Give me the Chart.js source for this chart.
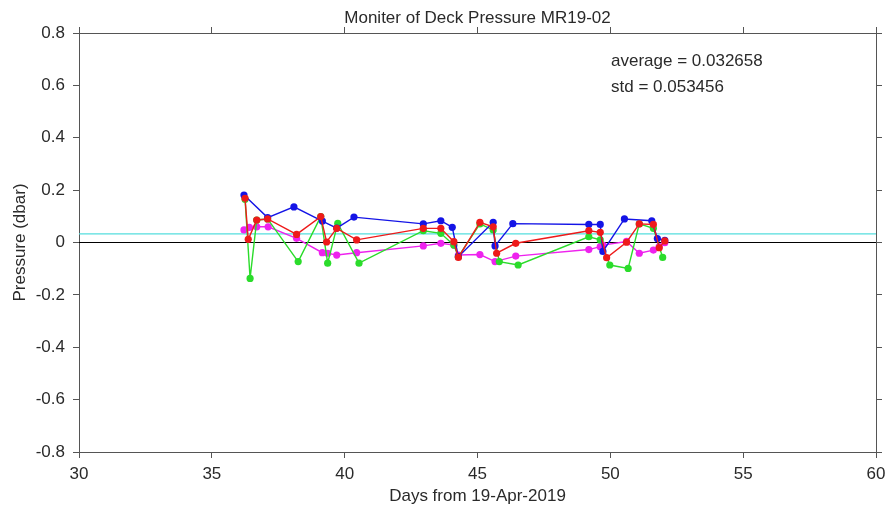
<!DOCTYPE html>
<html>
<head>
<meta charset="utf-8">
<script src="https://cdn.jsdelivr.net/npm/chart.js@4.4.0/dist/chart.umd.min.js"></script>
<style>
  html, body { margin: 0; padding: 0; background: #ffffff; }
  #wrap { width: 885px; height: 508px; }
</style>
</head>
<body>
<div id="wrap"><canvas id="c" width="885" height="508"></canvas></div>
<script>
// Deck pressure readings (dbar) against days since 19-Apr-2019, one list per sensor trace
const blueDays = [36.21, 37.10, 38.09, 39.16, 39.70, 40.35, 42.96, 43.62, 44.05, 44.28, 45.59, 45.66, 46.33, 49.19, 49.62, 49.72, 50.53, 51.56, 51.77, 52.05];
const bluePressure = [0.181, 0.095, 0.136, 0.082, 0.055, 0.097, 0.071, 0.083, 0.058, -0.054, 0.077, -0.013, 0.072, 0.069, 0.069, -0.034, 0.090, 0.083, 0.015, 0.008];

const redDays = [36.25, 36.37, 36.69, 37.10, 38.19, 39.10, 39.32, 39.70, 40.45, 42.96, 43.62, 44.11, 44.28, 45.09, 45.59, 45.72, 46.44, 49.19, 49.62, 49.86, 50.61, 51.09, 51.62, 51.84, 52.05];
const redPressure = [0.169, 0.012, 0.086, 0.090, 0.031, 0.099, 0.002, 0.054, 0.010, 0.054, 0.054, 0.003, -0.057, 0.077, 0.060, -0.041, -0.003, 0.045, 0.039, -0.058, 0.001, 0.071, 0.069, -0.020, 0.006];

const greenDays = [36.25, 36.44, 36.69, 37.10, 38.25, 39.10, 39.36, 39.74, 40.54, 42.96, 43.62, 44.11, 44.28, 45.09, 45.59, 45.82, 46.53, 49.19, 49.62, 49.98, 50.67, 51.09, 51.62, 51.97];
const greenPressure = [0.165, -0.137, 0.086, 0.090, -0.073, 0.099, -0.079, 0.073, -0.079, 0.045, 0.035, -0.010, -0.054, 0.071, 0.048, -0.073, -0.086, 0.022, 0.010, -0.086, -0.099, 0.071, 0.054, -0.057];

const magentaDays = [36.21, 36.41, 36.69, 37.12, 38.19, 39.16, 39.36, 39.70, 40.45, 42.96, 43.62, 44.11, 44.28, 45.09, 45.66, 46.44, 49.19, 49.62, 49.72, 50.61, 51.09, 51.62, 51.84, 52.05];
const magentaPressure = [0.048, 0.058, 0.060, 0.060, 0.016, -0.039, -0.041, -0.048, -0.039, -0.013, -0.003, -0.010, -0.048, -0.046, -0.073, -0.052, -0.027, -0.016, -0.010, 0.004, -0.041, -0.029, -0.016, -0.001];

const averagePressure = 0.032658;
const stdPressure = 0.053456;

const dayRange = [30, 60];
const pressureRange = [-0.8, 0.8];

const chartTitle = 'Moniter of Deck Pressure MR19-02';
const xTitle = 'Days from 19-Apr-2019';
const yTitle = 'Pressure (dbar)';

const FONT = '"Liberation Sans", Arial, sans-serif';
const TEXT = '#2a2a2a';
const AXIS = '#555555';

function pairs(xs, ys) {
  return xs.map((x, i) => ({ x: x, y: ys[i] }));
}

function trace(data, color) {
  return {
    data: data,
    showLine: true,
    borderColor: color,
    backgroundColor: color,
    pointBackgroundColor: color,
    pointBorderColor: color,
    borderWidth: 1.4,
    pointRadius: 3.6,
    pointBorderWidth: 0,
    tension: 0,
    order: 1
  };
}

function refLine(value, color) {
  return {
    data: [{ x: dayRange[0], y: value }, { x: dayRange[1], y: value }],
    showLine: true,
    borderColor: color,
    borderWidth: 1.2,
    pointRadius: 0,
    order: 5
  };
}

// title above the plot and statistics text inside it
const textPlugin = {
  id: 'plotText',
  afterDraw(chart) {
    const { ctx, chartArea } = chart;
    ctx.save();
    ctx.fillStyle = TEXT;
    ctx.font = '17px ' + FONT;
    ctx.textAlign = 'center';
    ctx.textBaseline = 'middle';
    ctx.fillText(chartTitle, (chartArea.left + chartArea.right) / 2, 18);
    ctx.textAlign = 'left';
    ctx.fillText('average = ' + averagePressure.toFixed(6), 611, 61);
    ctx.fillText('std = ' + stdPressure.toFixed(6), 611, 87);
    ctx.restore();
  }
};

const tickGrid = { drawOnChartArea: false, drawTicks: true, tickLength: 6, color: AXIS, lineWidth: 1 };
const border = { display: true, color: AXIS, width: 1 };

// fixed axis box sizes keep the plot frame in place; edge labels may overhang
function fixBox(size) {
  return function (s) {
    if (s.isHorizontal()) { s.height = size; } else { s.width = size; }
    s.paddingLeft = 0; s.paddingRight = 0; s.paddingTop = 0; s.paddingBottom = 0;
  };
}

new Chart(document.getElementById('c'), {
  type: 'scatter',
  data: {
    datasets: [
      trace(pairs(redDays, redPressure), '#ee1a1a'),
      trace(pairs(blueDays, bluePressure), '#1414e6'),
      trace(pairs(greenDays, greenPressure), '#2bdc2b'),
      trace(pairs(magentaDays, magentaPressure), '#ee22ee'),
      refLine(averagePressure, '#55dede'),
      refLine(0, '#000000')
    ]
  },
  options: {
    responsive: false,
    animation: false,
    layout: { autoPadding: false, padding: { top: 27, left: 0, right: 0, bottom: 0 } },
    plugins: { legend: { display: false }, tooltip: { enabled: false }, title: { display: false } },
    scales: {
      x: {
        type: 'linear', position: 'bottom', min: dayRange[0], max: dayRange[1],
        ticks: { stepSize: 5, color: TEXT, font: { family: FONT, size: 17 }, padding: 6, maxRotation: 0 },
        grid: tickGrid, border: border,
        title: { display: true, text: xTitle, color: TEXT, font: { family: FONT, size: 17 }, padding: { top: 0, bottom: 1 } },
        afterFit: fixBox(56)
      },
      x2: {
        type: 'linear', position: 'top', min: dayRange[0], max: dayRange[1],
        ticks: { stepSize: 5, display: false },
        grid: tickGrid, border: border,
        afterFit: fixBox(6)
      },
      y: {
        type: 'linear', position: 'left', min: pressureRange[0], max: pressureRange[1],
        ticks: {
          stepSize: 0.2, color: TEXT, font: { family: FONT, size: 17 }, padding: 8,
          callback(v) { const r = Math.round(v * 10) / 10; return r === 0 ? '0' : String(r); }
        },
        grid: tickGrid, border: border,
        title: { display: true, text: yTitle, color: TEXT, font: { family: FONT, size: 17 }, padding: { top: 10, bottom: 0 } },
        afterFit: fixBox(79)
      },
      y2: {
        type: 'linear', position: 'right', min: pressureRange[0], max: pressureRange[1],
        ticks: { stepSize: 0.2, display: false },
        grid: tickGrid, border: border,
        afterFit: fixBox(9)
      }
    }
  },
  plugins: [textPlugin]
});
</script>
</body>
</html>
